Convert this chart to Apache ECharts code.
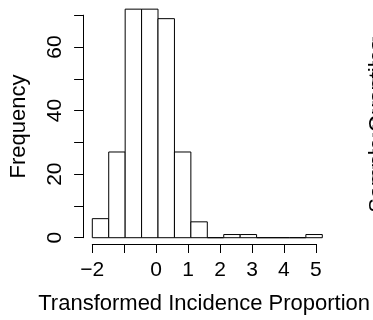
<!DOCTYPE html>
<html>
<head>
<meta charset="utf-8">
<script src="https://cdn.jsdelivr.net/npm/echarts@6/dist/echarts.min.js"></script>
<style>
html, body { margin: 0; padding: 0; background: #fff; }
#chart { width: 373px; height: 320px; }
</style>
</head>
<body>
<div id="chart"></div>
<script>
// histogram: bins of width 0.5, counts
const binStarts = [-2, -1.5, -1, -0.5, 0, 0.5, 1, 1.5, 2, 2.5, 3, 3.5, 4, 4.5]
const binWidth = 0.5
const counts = [6, 27, 72, 72, 69, 27, 5, 0, 1, 1, 0, 0, 0, 1]
const xTicks = [-2, -1, 0, 1, 2, 3, 4, 5]
const xTickLabels = ['\u22122', '', '0', '1', '2', '3', '4', '5']
const yTicks = [0, 10, 20, 30, 40, 50, 60, 70]
const yTickLabels = ['0', '', '20', '', '40', '', '60', '']

// where the tick ranges sit on the page; plot region padded 4% like R does
const pxXLo = 92.3, pxXHi = 322.3, pxY0 = 237.7, pxYTop = 15.2
const xLo = xTicks[0], xHi = xTicks[xTicks.length - 1]
const yLo = yTicks[0], yHi = yTicks[yTicks.length - 1]
const kx = (pxXHi - pxXLo) / (xHi - xLo)
const ky = (pxY0 - pxYTop) / (yHi - yLo)

const dxMin = binStarts[0], dxMax = binStarts[binStarts.length - 1] + binWidth
const dyMax = Math.max(...counts)
const padX = (dxMax - dxMin) * 0.04, padY = dyMax * 0.04
const plot = {
  left: pxXLo + (dxMin - padX - xLo) * kx,
  width: (dxMax - dxMin + 2 * padX) * kx,
  top: pxY0 - (dyMax + padY) * ky,
  height: (dyMax + 2 * padY) * ky
}

const font = 'Liberation Sans, Arial, Helvetica, sans-serif'
const ink = '#000'

const chart = echarts.init(document.getElementById('chart'), null, { renderer: 'canvas' })

chart.setOption({
  animation: false,
  backgroundColor: '#fff',
  grid: [
    { left: plot.left, top: plot.top, width: plot.width, height: plot.height },
    { left: pxXLo, top: plot.top, width: pxXHi - pxXLo, height: plot.height },
    { left: plot.left, top: pxYTop, width: plot.width, height: pxY0 - pxYTop }
  ],
  xAxis: [
    { gridIndex: 0, type: 'value', min: dxMin - padX, max: dxMax + padX, show: false },
    {
      gridIndex: 1, type: 'value', min: xLo, max: xHi, interval: 1, position: 'bottom',
      axisLine: { lineStyle: { color: ink, width: 1 } },
      axisTick: { length: 9, lineStyle: { color: ink, width: 1 } },
      axisLabel: {
        margin: 16, fontSize: 21, color: ink, fontFamily: font,
        formatter: v => xTickLabels[xTicks.indexOf(v)] ?? ''
      },
      splitLine: { show: false },
      name: 'Transformed Incidence Proportion',
      nameLocation: 'middle', nameGap: 49,
      nameTextStyle: { fontSize: 22, color: ink, fontFamily: font }
    },
    { gridIndex: 2, type: 'value', show: false }
  ],
  yAxis: [
    { gridIndex: 0, type: 'value', min: -padY, max: dyMax + padY, show: false },
    { gridIndex: 1, type: 'value', show: false },
    {
      gridIndex: 2, type: 'value', min: yLo, max: yHi, interval: 10, position: 'left',
      axisLine: { show: true, lineStyle: { color: ink, width: 1 } },
      axisTick: { show: true, length: 9, lineStyle: { color: ink, width: 1 } },
      axisLabel: {
        rotate: 90, margin: 17, fontSize: 21, color: ink, fontFamily: font,
        formatter: v => yTickLabels[yTicks.indexOf(v)] ?? ''
      },
      splitLine: { show: false },
      name: 'Frequency',
      nameLocation: 'middle', nameRotate: 90, nameGap: 53,
      nameTextStyle: { fontSize: 22, color: ink, fontFamily: font }
    }
  ],
  series: [
    {
      type: 'custom',
      xAxisIndex: 0,
      yAxisIndex: 0,
      data: binStarts.map((b, i) => [b, b + binWidth, counts[i]]),
      renderItem: (params, api) => {
        const p0 = api.coord([api.value(0), 0])
        const p1 = api.coord([api.value(1), api.value(2)])
        return {
          type: 'rect',
          shape: { x: p0[0], y: p1[1], width: p1[0] - p0[0], height: p0[1] - p1[1] },
          style: { fill: '#fff', stroke: ink, lineWidth: 1 }
        }
      }
    }
  ],
  // edge of the neighbouring panel, cut off by the frame
  graphic: [
    {
      type: 'line', silent: true,
      shape: { x1: 372.5, y1: 37, x2: 372.5, y2: 192 },
      style: { stroke: '#aaa', lineWidth: 1, lineDash: [4, 4] }
    },
    {
      type: 'text', silent: true, x: 367, y: 126, rotation: Math.PI / 2,
      style: {
        text: 'Sample Quantiles', fontSize: 22, fontFamily: font, fill: ink,
        align: 'center', verticalAlign: 'top'
      }
    }
  ]
})
</script>
</body>
</html>
